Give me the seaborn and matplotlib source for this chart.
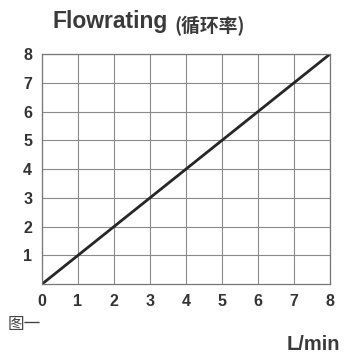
import matplotlib
matplotlib.use("Agg")
import matplotlib.pyplot as plt
import seaborn as sns
import pandas as pd

flow_x = [0, 8]
flow_y = [0, 8]
x_ticks = [0, 1, 2, 3, 4, 5, 6, 7, 8]
y_ticks = [1, 2, 3, 4, 5, 6, 7, 8]

sns.set_style("white")
plt.rcParams["font.family"] = ["Liberation Sans", "Noto Sans CJK SC", "DejaVu Sans"]

fig = plt.figure(figsize=(3.44, 3.61), dpi=100)
ax = fig.add_axes([0.122, 0.213, 0.837, 0.637])

df = pd.DataFrame({"x": flow_x, "y": flow_y})
sns.lineplot(data=df, x="x", y="y", ax=ax, color="#262626", linewidth=2.0)

ax.set_xlim(0, 8)
ax.set_ylim(0, 8)
ax.set_xticks(x_ticks)
ax.set_yticks(y_ticks)
ax.set_xticklabels([str(v) for v in x_ticks])
ax.set_yticklabels([str(v) for v in y_ticks])
ax.grid(True, color="#8a8a8a", linewidth=0.8)
ax.set_axisbelow(True)
for s in ax.spines.values():
    s.set_color("#777777")
    s.set_linewidth(0.9)
ax.tick_params(length=0, pad=7, labelsize=11.5, labelcolor="#333333")
for lbl in ax.get_xticklabels() + ax.get_yticklabels():
    lbl.set_fontweight("bold")
ax.set_xlabel("")
ax.set_ylabel("")

fig.text(0.154, 0.922, "Flowrating", fontsize=16.5, fontweight="bold",
         color="#3a3a3a", va="baseline", ha="left")
fig.text(0.508, 0.912, "(循环率)", fontsize=13.5, fontweight="bold",
         color="#3a3a3a", va="baseline", ha="left",
         family=["Noto Sans CJK SC", "DejaVu Sans"])
fig.text(0.022, 0.100, "图一", fontsize=12, color="#444444", va="center",
         ha="left", family=["Noto Sans CJK SC", "DejaVu Sans"])
fig.text(0.99, 0.045, "L/min", fontsize=14.5, fontweight="bold",
         color="#3a3a3a", va="center", ha="right")

fig.savefig("out.png", dpi=100, facecolor="white")
